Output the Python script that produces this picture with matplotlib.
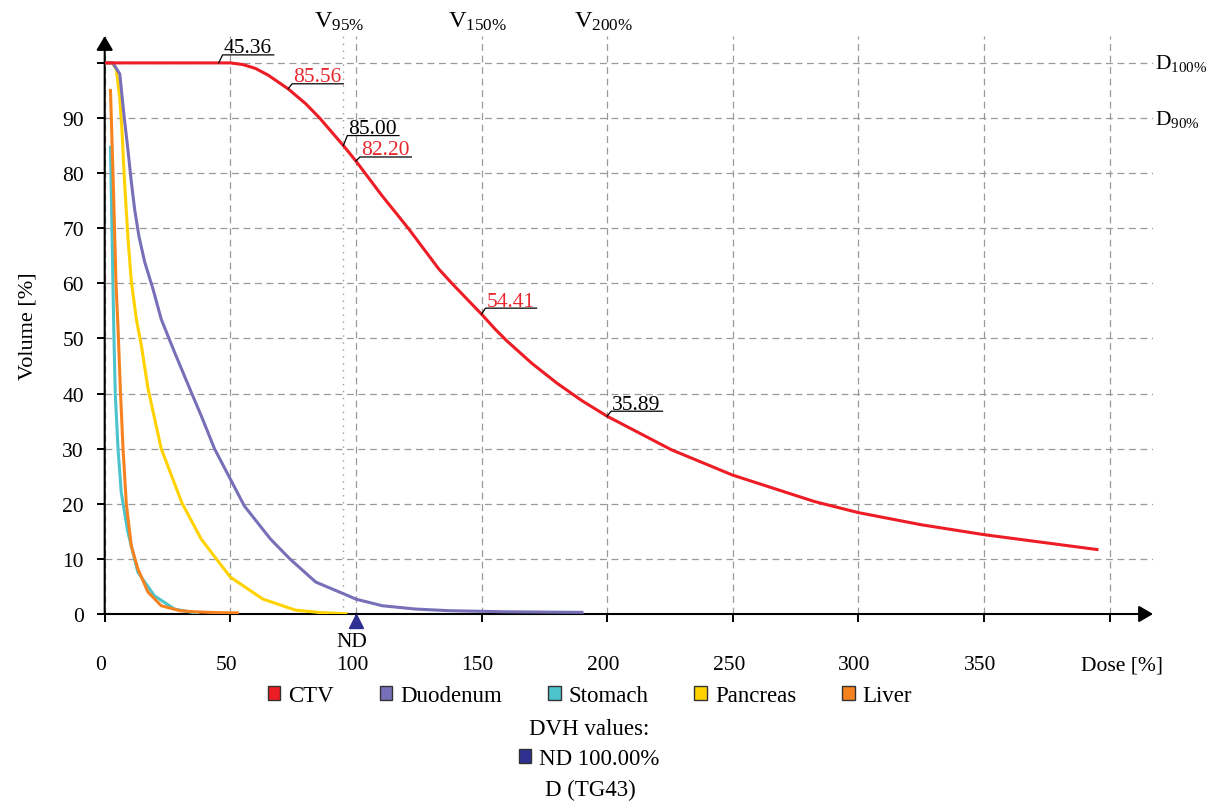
import matplotlib
matplotlib.use('Agg')
import matplotlib.pyplot as plt
import matplotlib.patches as mpatches
from matplotlib.lines import Line2D
from matplotlib.transforms import offset_copy, blended_transform_factory, IdentityTransform, ScaledTranslation

plt.rcParams['font.family'] = 'Liberation Serif'
plt.rcParams['mathtext.fontset'] = 'custom'
plt.rcParams['mathtext.rm'] = 'Liberation Serif'
plt.rcParams['mathtext.it'] = 'Liberation Serif:italic'

# --- data (dose %, volume %) ---
ctv_dose = [0, 45.36, 50, 55, 60, 65, 73, 80, 85.56, 95, 100, 110.4, 121, 133, 138.2, 150,
            155.4, 160, 170, 180, 190, 200, 225.6, 250, 282.6, 300, 325, 350, 375, 395]
ctv_vol = [100, 100, 100, 99.7, 99.0, 97.8, 95.3, 92.6, 90, 85, 82.2, 75.9, 69.9, 62.6, 60, 54.41,
           51.7, 49.6, 45.5, 41.9, 38.7, 35.89, 29.8, 25.2, 20.4, 18.4, 16.2, 14.4, 12.9, 11.7]

duo_dose = [0, 3.2, 6, 7.7, 9.2, 10.6, 11.9, 13.6, 15.9, 19.2, 22.5, 27.8, 34.4, 38.4, 43.7, 50,
            55.6, 66, 73.7, 84, 97, 100, 110.5, 123.7, 137, 160, 190]
duo_vol = [100, 100, 98, 90.4, 84.4, 78.4, 73.5, 68.6, 63.9, 59, 53.5, 47.5, 40.3, 36, 30, 24.5,
           19.6, 13.6, 10, 5.8, 3.3, 2.7, 1.5, 0.9, 0.6, 0.4, 0.3]

sto_dose = [2.3, 3.6, 4.2, 5.3, 6.6, 9.2, 13.2, 19.8, 27.8, 37]
sto_vol = [84.7, 52, 40, 30, 22, 14.9, 7.6, 3.3, 0.9, 0.1]

pan_dose = [0, 3, 4.6, 6, 6.9, 7.9, 9.2, 10.6, 12.6, 14.6, 17.2, 22.5, 30.7, 38.4, 50, 63, 76, 86, 96]
pan_vol = [100, 100, 98.9, 93.5, 87.5, 78.4, 68.6, 60.3, 53.5, 48.7, 41, 30, 20.2, 13.6, 6.7, 2.7,
           0.7, 0.25, 0.05]

liv_dose = [2.3, 3.4, 4.5, 5.3, 6.3, 7.3, 8.6, 10.6, 13.2, 17.2, 22.5, 30, 35.7, 45, 52.8]
liv_vol = [95, 78.4, 60, 52, 40, 30, 20, 12.3, 8.2, 4, 1.5, 0.6, 0.4, 0.25, 0.2]

names = ['CTV', 'Duodenum', 'Stomach', 'Pancreas', 'Liver']
colors = ['#EE1C25', '#7770B8', '#4DC3CC', '#FFD200', '#F5821F']

# DVH tags on the CTV curve
tag_dose = [45.36, 73, 95, 100, 150, 200]
tag_vol = [100, 95.3, 85.0, 82.2, 54.41, 35.89]
tag_text = ['45.36', '85.56', '85.00', '82.20', '54.41', '35.89']
tag_red = [False, True, False, True, True, False]
tag_rise = [8, 5, 10, 4, 6, 5]   # leader height in px

v_dose = [95, 150, 200]
v_text = ['95', '150', '200']
d_vol = [100, 90]
d_text = ['100', '90']
nd_dose = 100

W, H = 1216, 803
fig = plt.figure(figsize=(W / 100, H / 100), dpi=100)
x0px, x1px, ytop, ybot = 104.7, 1153, 37, 615
ax = fig.add_axes([x0px / W, 1 - ybot / H, (x1px - x0px) / W, (ybot - ytop) / H])
ax.set_xlim(0, (x1px - x0px) / 2.512)
ax.set_ylim(0, (ybot - ytop) / 5.511)

for s in ax.spines.values():
    s.set_visible(False)
ax.set_axisbelow(True)
ax.grid(True, color='#9a9a9a', linestyle=(0, (5.5, 3.7)), linewidth=0.9)
ax.axvline(95, color='#9a9a9a', linestyle=(0, (1, 4)), linewidth=1.0, zorder=0.5)

# axis lines with arrow heads
arr = dict(arrowstyle='-|>,head_length=0.85,head_width=0.5', color='black', lw=1.5,
           shrinkA=0, shrinkB=0, mutation_scale=10)
ax.annotate('', xy=(1, 0), xytext=(0, 0), xycoords='axes fraction', arrowprops=arr)
ax.annotate('', xy=(0, 1), xytext=(0, 0), xycoords='axes fraction', arrowprops=arr)

ax.set_xticks(range(0, 401, 50))
ax.set_xticklabels([str(v) for v in range(0, 351, 50)] + [''])
ax.set_yticks(range(0, 101, 10))
ax.set_yticklabels([str(v) for v in range(0, 91, 10)] + [''])
ax.tick_params(axis='x', direction='out', length=6, width=1.4, pad=23.5, labelsize=15.5)
ax.tick_params(axis='y', direction='out', length=6, width=1.4, pad=9, labelsize=15.5)
shift = ScaledTranslation(-4 / 100, 0, fig.dpi_scale_trans)
for lbl in ax.get_xticklabels():
    lbl.set_transform(lbl.get_transform() + shift)

ax.set_ylabel('Volume [%]', fontsize=16)
ax.yaxis.set_label_coords((38 - x0px) / (x1px - x0px), 0.5)
fig.text(1163 / W, 1 - 666 / H, 'Dose [%]', ha='right', va='center', fontsize=15.5)

# curves
series = [(ctv_dose, ctv_vol), (duo_dose, duo_vol), (sto_dose, sto_vol),
          (pan_dose, pan_vol), (liv_dose, liv_vol)]
order = [2, 4, 3, 1, 0]
for i in order:
    ax.plot(series[i][0], series[i][1], color=colors[i], lw=2.2, zorder=3 + (i == 0),
            solid_joinstyle='round')

# ND marker below the axis
ax.plot([nd_dose], [0], marker='^', ms=10.5, color='#2E3192', linestyle='none',
        transform=offset_copy(ax.transData, fig, y=-7, units='dots'), clip_on=False, zorder=5)
ax.text(nd_dose, 0, 'ND', transform=offset_copy(ax.transData, fig, x=-4, y=-28, units='dots'),
        ha='center', va='center', fontsize=15.5)

# V labels above, D labels at right
top_tr = blended_transform_factory(ax.transData, fig.transFigure)
for d, t in zip(v_dose, v_text):
    ax.text(d, 1 - 28 / H, r'$\mathregular{V_{%s\%%}}$' % t,
            transform=offset_copy(top_tr, fig, x=-4, units='dots'),
            ha='center', va='baseline', fontsize=17.5)
right_tr = blended_transform_factory(ax.transAxes, ax.transData)
for v, t in zip(d_vol, d_text):
    ax.text(1.002, v, r'$\mathregular{D_{%s\%%}}$' % t, transform=right_tr,
            ha='left', va='center', fontsize=15.5, clip_on=False)

# underlined value tags with short leaders
fig.canvas.draw()
rend = fig.canvas.get_renderer()
for d, v, t, red, rise in zip(tag_dose, tag_vol, tag_text, tag_red, tag_rise):
    px, py = ax.transData.transform((d, v))
    lx, ly = px + 4, py + rise
    txt = ax.text(d, v, t, transform=offset_copy(ax.transData, fig, x=5, y=rise + 2.5, units='dots'),
                  ha='left', va='baseline', fontsize=15.5,
                  color='#E8262C' if red else 'black', zorder=6)
    w = txt.get_window_extent(rend).width
    fig.add_artist(Line2D([px, lx, lx + w + 3], [py, ly, ly], color='black', lw=0.9,
                          transform=IdentityTransform()))

# legends
handles = [mpatches.Patch(facecolor=c, edgecolor='#333333', lw=1) for c in colors]
fig.legend(handles, names, loc='center', bbox_to_anchor=(590 / W, 1 - 697 / H), ncol=5,
           frameon=False, fontsize=16.5, handlelength=0.55, handleheight=0.55,
           handletextpad=0.35, columnspacing=2.0, borderpad=0, borderaxespad=0)
fig.text(589 / W, 1 - 730 / H, 'DVH values:', ha='center', va='center', fontsize=16.5)
fig.legend([mpatches.Patch(facecolor='#2E3192', edgecolor='#333333', lw=1)], ['ND 100.00%'],
           loc='center', bbox_to_anchor=(589 / W, 1 - 760 / H), frameon=False, fontsize=16.5,
           handlelength=0.55, handleheight=0.55, handletextpad=0.35, borderpad=0, borderaxespad=0)
fig.text(590 / W, 1 - 790 / H, 'D (TG43)', ha='center', va='center', fontsize=16.5)

fig.savefig('out.png', dpi=100)
